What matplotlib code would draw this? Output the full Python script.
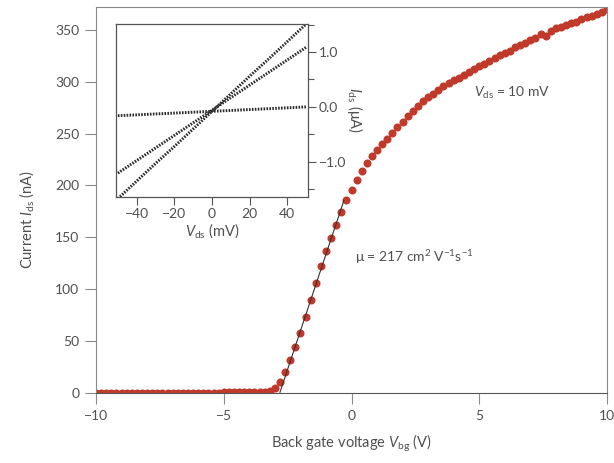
import matplotlib
matplotlib.use('Agg')
import matplotlib.pyplot as plt
from matplotlib.ticker import MultipleLocator

# transfer curve: back gate sweep at Vds = 10 mV (0.2 V steps)
v_bg = [round(-10 + 0.2 * i, 1) for i in range(101)]
i_ds = [0.3, 0.2, 0.4, 0.3, 0.2, 0.3, 0.4, 0.3, 0.2, 0.3,
        0.4, 0.3, 0.3, 0.2, 0.4, 0.3, 0.3, 0.4, 0.3, 0.2,
        0.3, 0.4, 0.3, 0.3, 0.4, 0.5, 0.5, 0.6, 0.7, 0.8,
        0.8, 0.9, 1.1, 1.3, 1.5, 4.5, 10.9, 20.5, 31.7, 44.0,
        57.4, 73.4, 89.4, 106.0, 122.0, 137.0, 149.5, 162.0, 174.5, 186.0,
        195.5, 205.0, 213.5, 221.5, 228.5, 234.0, 239.5, 245.0, 250.5, 256.0,
        261.5, 266.5, 272.0, 277.0, 281.0, 285.0, 288.5, 292.0, 295.5, 299.0,
        301.5, 304.0, 306.5, 309.0, 312.0, 315.0, 317.5, 320.0, 323.0, 325.5,
        328.0, 330.0, 333.0, 335.5, 337.5, 340.0, 342.0, 345.5, 344.0, 349.0,
        351.5, 353.0, 355.0, 356.5, 358.0, 360.5, 362.0, 363.0, 365.0, 367.0,
        370.0]

# linear fit of the turn-on region
fit_vbg = [-2.8, -0.3]
fit_ids = [0.7, 185.3]

# inset: output curves at three gate voltages
v_ds = [-50, -40, -30, -20, -10, 0, 10, 20, 30, 40, 50]
iv_high = [-1.67, -1.35, -1.03, -0.72, -0.40, -0.08, 0.24, 0.56, 0.87, 1.19, 1.51]
iv_mid = [-1.205, -0.976, -0.747, -0.518, -0.289, -0.06, 0.169, 0.398, 0.627, 0.856, 1.085]
iv_low = [-0.16, -0.144, -0.128, -0.112, -0.096, -0.08, -0.064, -0.048, -0.032, -0.016, 0.0]

plt.rcParams['font.family'] = ['Lato', 'DejaVu Sans']
plt.rcParams['mathtext.fontset'] = 'custom'
plt.rcParams['mathtext.rm'] = 'Lato'
plt.rcParams['mathtext.it'] = 'Lato:italic'

txt = '#505050'
frame = '#8a8a8a'
red = '#c03a2b'

fig = plt.figure(figsize=(6.14, 4.63), dpi=100)
ax = fig.add_axes([96 / 614, 1 - 393 / 463, 511 / 614, 386 / 463])

ax.plot(v_bg, i_ds, 'o', color=red, markersize=5.8, markeredgewidth=0, zorder=2)
ax.plot(fit_vbg, fit_ids, '-', color='#333333', lw=0.8, zorder=3)

ax.set_xlim(-10, 10)
ax.set_ylim(0, 372)
ax.set_xticks([-10, -5, 0, 5, 10])
ax.set_xticklabels(['\u221210', '\u22125', '0', '5', '10'])
ax.set_yticks(range(0, 351, 50))
ax.tick_params(direction='out', length=8, width=0.8, color=frame,
               labelcolor=txt, labelsize=10, pad=4)
for s in ax.spines.values():
    s.set_color(frame)
    s.set_linewidth(0.8)
ax.spines['bottom'].set_color('#555555')
ax.set_xlabel('Back gate voltage $V_{\\rm bg}$ (V)', color=txt, fontsize=10.5, labelpad=8)
ax.set_ylabel('Current $I_{\\rm ds}$ (nA)', color=txt, fontsize=10.5)
ax.yaxis.set_label_coords(-0.118, 0.45)

ax.text(4.8, 289, '$V_{\\rm ds}$ = 10 mV', color=txt, fontsize=10, va='center')
ax.text(0.15, 131, '\u03bc = 217 cm$^2$ V$^{-1}$s$^{-1}$', color=txt, fontsize=10, va='center')

# inset
ins = fig.add_axes([116 / 614, 1 - 197 / 463, 192 / 614, 173 / 463])
for iv in (iv_high, iv_mid, iv_low):
    ins.plot(v_ds, iv, color='#2b2b2b', lw=2.1, linestyle=(0, (0.55, 0.45)),
             solid_capstyle='round')
ins.set_xlim(-51, 51)
ins.set_ylim(-1.64, 1.51)
ins.set_xticks([-40, -20, 0, 20, 40])
ins.set_xticklabels(['\u221240', '\u221220', '0', '20', '40'])
ins.yaxis.tick_right()
ins.yaxis.set_label_position('right')
ins.set_yticks([-1.0, 0.0, 1.0])
ins.set_yticklabels(['\u22121.0', '0.0', '1.0'])
ins.yaxis.set_minor_locator(MultipleLocator(0.5))
ins.tick_params(direction='out', length=6, width=0.8, color='#555555',
                labelcolor=txt, labelsize=10, pad=2)
ins.tick_params(which='minor', direction='out', length=4, width=0.8, color='#555555')
for s in ins.spines.values():
    s.set_color('#555555')
    s.set_linewidth(0.9)
ins.set_xlabel('$V_{\\rm ds}$ (mV)', color=txt, fontsize=10.5, labelpad=1)
ins.set_ylabel('$I_{\\rm ds}$ (\u03bcA)', color=txt, fontsize=10.5, rotation=270, labelpad=13)

plt.savefig('out.png', dpi=100)
